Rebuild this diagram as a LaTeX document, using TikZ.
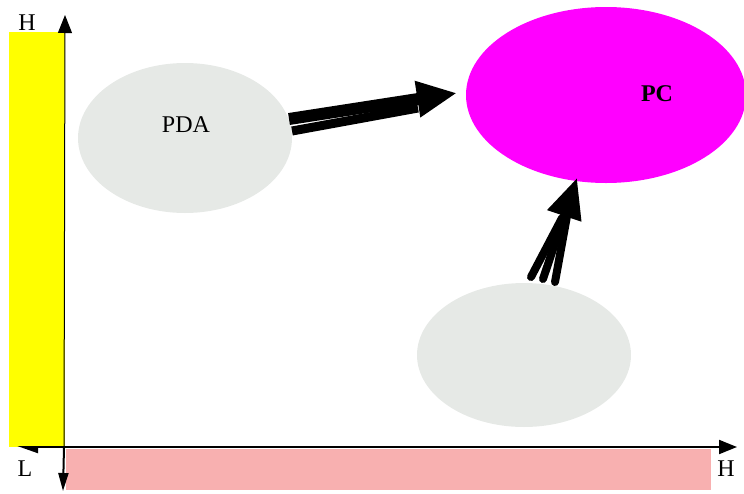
\documentclass[tikz,border=0pt]{standalone}
\usepackage{fontspec}
\setmainfont{Liberation Serif}
\usepackage{tikz}
\usetikzlibrary{arrows.meta}
\usetikzlibrary{shapes.geometric}
\usetikzlibrary{positioning}

\definecolor{bandyellow}{HTML}{FFFF00}
\definecolor{bandpink}{HTML}{F8B0B0}
\definecolor{blobgrey}{HTML}{E6E9E6}
\definecolor{pcmagenta}{HTML}{FF00FF}

\tikzset{
    blob/.style={ellipse, fill=blobgrey, inner sep=0pt},
    axis/.style={line width=1pt},
    fatline/.style={line width=4pt, line cap=round},
    fathead/.style={-{Triangle[length=20pt,width=17pt]}},
    lbl/.style={font=\fontsize{12}{14}\selectfont, inner sep=0pt}
}

\begin{document}
\begin{tikzpicture}[x=0.5pt,y=-0.5pt]
            \useasboundingbox (0,0) rectangle (744,493);

            % bands along the axes
            \fill[bandyellow] (9,32) rectangle (65,447);
            \fill[bandpink] (66,449) rectangle (711,490);

            % axes
            \coordinate (o) at (64,447);
            \coordinate (ytop) at (65,15);
            \coordinate (ybot) at (63,491);
            \coordinate (xleft) at (17,447);
            \coordinate (xright) at (737,447);
            \draw[line width=0.5pt,-{Triangle[length=9pt,width=7pt]}] (o) -- (ytop);
            \draw[axis,-{Triangle[length=9pt,width=5pt]}] (o) -- (ybot);
            \draw[axis,-{Triangle[length=9pt,width=7pt]}] (o) -- (xright);
            \draw[axis,-{Triangle[length=9pt,width=6pt,left]}] (o) -- (xleft);

            \node[lbl] (hy) at (27,23) {H};
            \node[lbl] (lo) at (25,469) {L};
            \node[lbl] (hx) at (726,469) {H};

            % the three blobs
            \node[blob, minimum width=107pt, minimum height=75pt] (pda) at (185,138) {};
            \node[ellipse, fill=pcmagenta, inner sep=0pt, minimum width=140pt, minimum height=88pt] (pc) at (606,95) {};
            \node[blob, minimum width=107pt, minimum height=72pt] (other) at (524,355) {};

            \node[lbl] (pdatext) at (186,125) {PDA};
            \node[lbl, font=\fontsize{12}{14}\selectfont\bfseries] (pctext) at (657,94) {PC};

            % PDA -> PC
            \coordinate (a1) at (289,119);
            \coordinate (a2) at (292,131);
            \coordinate (atip) at (457,93);
            \draw[fatline, line width=6pt, line cap=butt, fathead] (a1) -- (atip);
            \draw[fatline, line width=4.5pt, line cap=butt] (a2) -- (418,108);

            % other -> PC
            \coordinate (b1) at (531,277);
            \coordinate (b2) at (543,279);
            \coordinate (b3) at (555,282);
            \coordinate (btip) at (577,178);
            \draw[fatline] (b1) -- (562,218);
            \draw[fatline] (b3) -- (567,216);
            \draw[fatline, fathead] (b2) -- (btip);
        \end{tikzpicture}
\end{document}
